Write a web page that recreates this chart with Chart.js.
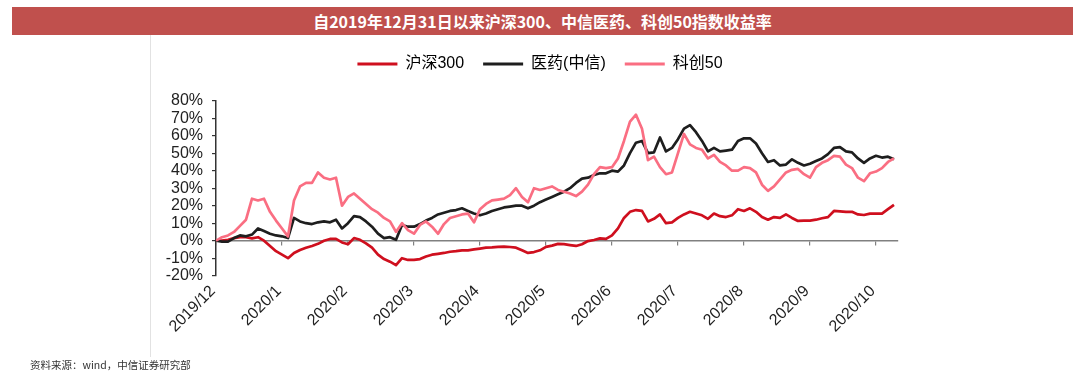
<!DOCTYPE html>
<html><head><meta charset="utf-8">
<script src="https://cdn.jsdelivr.net/npm/chart.js@4"></script>
<style>
html,body{margin:0;padding:0;background:#fff;}
#wrap{position:relative;width:1080px;height:380px;overflow:hidden;background:#fff;}
#bar{position:absolute;left:12px;top:7px;width:1061px;height:28px;background:#C0504D;color:#fff;font:bold 16px "Noto Sans CJK SC",sans-serif;line-height:28px;text-align:center;}
#vline{position:absolute;left:150px;top:35px;width:1px;height:322px;background:#e2e2e2;}
#src{position:absolute;left:30px;top:357px;font:10.5px "Noto Sans CJK SC",sans-serif;color:#333;line-height:16px;}
canvas{position:absolute;left:0;top:0;}
</style></head>
<body><div id="wrap">
<div id="bar">自2019年12月31日以来沪深300、中信医药、科创50指数收益率</div>
<div id="vline"></div>
<canvas id="c" width="1080" height="380"></canvas>
<div id="src">资料来源：wind，中信证券研究部</div>
</div>
<script>
const monthLabels = ['2019/12','2020/1','2020/2','2020/3','2020/4','2020/5','2020/6','2020/7','2020/8','2020/9','2020/10'];
const monthTickIndex = [0,11,22,33,44,55,66,77,88,99,110];
const seriesNames = ['沪深300','医药(中信)','科创50'];

const hs300 = [
 0,0,0.5,1.5,2,2,1.3,2,0,-3,
 -6,-8,-10,-7,-5.3,-4,-3,-1.8,0,1,
 1,-1,-2,1.5,0.5,-1.5,-4,-8,-10.5,-12,
 -14,-10,-11,-11,-10.5,-9,-8,-7.5,-7,-6.3,
 -6,-5.5,-5.5,-5,-4.5,-4,-3.8,-3.5,-3.4,-3.6,
 -4,-5.5,-7,-6.5,-5.5,-3.5,-2.8,-1.8,-2,-2.5,
 -3,-2,-0.2,0.4,1.3,1,3,7,13,16.5,
 17.5,17,11,12.5,15,10,10.5,13,15,16.5,
 15.5,14.5,12.5,15.5,14,13.5,14.5,18,17,18.5,
 16.5,13.5,12,13.5,13,15,13,11.3,11.5,11.5,
 12,12.8,13.5,17,16.8,16.5,16.5,15,14.7,15.5,
 15.5,15.5,18,20.5
];
const pharma = [
 0,-0.5,-0.5,1.5,3,2.5,3.5,7,5.5,4,
 3,2.5,1.5,13,11,10,9.5,10.5,11,10.5,
 12,7,10,14,13.5,11,8,4,1.5,2,
 0.5,9,8,8,9.5,11.5,13,15,16,17,
 17.5,18.5,17,15.5,14.5,15.5,17,18,19,19.5,
 20,20,18.5,20,22,23.5,25,26.5,28,30,
 33,35.5,36,37.5,38.5,38.5,40,39.5,43,50,
 56,57,50,50.5,59,51,53,58,64,66,
 62,57,51,53,51,51.5,52,57,58.5,58.5,
 55.5,50,45,46,43,43.5,46.5,44.5,43,44,
 45.5,47,49.5,53,53.5,51,50.5,47,44.5,47,
 48.5,47.5,48,46.5
];
const star50 = [
 0,2,3,5,8.5,12,24,23,24,16.5,
 11.5,7,2.5,23,31,33,33,39,36,35,
 36,20,25,27,24,21,18,16,13,11,
 5,10,6,4,9,11,8,4,9.5,13,
 14,15,15.5,10.5,18,21,23,23.5,24,26,
 30,25,22,30,29,30,31,29,28,27,
 25.5,28,32,38,42,41.5,42,47,57,68,
 72,64,46,48,42,38,39,50,61,55,
 53,52,47,49,45,43,40,40,42,41.5,
 39,32,28.5,31,35,39,40.5,41,38,36,
 42,44.5,46,48.5,48,43.5,41.5,36,34,38.5,
 39.5,41.5,45,47
];

const AREA = {left:216, right:898, top:100.7, bottom:275.7};
const xMax = 113.67;
const FONT = 'Liberation Sans, Arial, "Noto Sans CJK SC", sans-serif';
let legendExtra = 20;

const toPts = arr => arr.map((v,i)=>({x:i,y:v}));
const setMonthTicks = s => { s.ticks = monthTickIndex.map(v=>({value:v})); };

const legendSpacer = {
  id:'legendSpacer',
  beforeInit(chart){
    const lg = chart.legend;
    const orig = lg.fit;
    lg.fit = function(){ orig.call(this); this.height += legendExtra; };
  }
};

const colors = ['#CF0F1E','#1E1E1E','#FA6E82'];
const values = [hs300, pharma, star50];
const orders = [3,2,1];

const cfg = {
  type:'line',
  data:{
    datasets: seriesNames.map((name,k)=>({
      label:name,
      data:toPts(values[k]),
      borderColor:colors[k],
      backgroundColor:colors[k],
      borderWidth:2.7,
      pointRadius:0,
      tension:0,
      fill:false,
      borderJoinStyle:'round',
      order:orders[k],
      xAxisID:'x', yAxisID:'y'
    }))
  },
  options:{
    responsive:false,
    animation:false,
    layout:{padding:{top:37,left:0,right:0,bottom:0}},
    plugins:{
      tooltip:{enabled:false},
      legend:{
        display:true, position:'top', align:'center',
        labels:{
          boxWidth:40, boxHeight:3, padding:19, color:'#222',
          font:{size:16, family:FONT},
          generateLabels: chart => chart.data.datasets.map((d,i)=>({
            text:d.label, fillStyle:d.borderColor, strokeStyle:d.borderColor,
            lineWidth:0, hidden:false, datasetIndex:i
          }))
        }
      }
    },
    scales:{
      x:{
        type:'linear', position:{y:0}, min:0, max:xMax,
        afterBuildTicks:setMonthTicks,
        ticks:{display:false},
        grid:{drawOnChartArea:false, drawTicks:true, tickLength:4, color:'#808080', lineWidth:1.2},
        border:{color:'#808080', width:1.5}
      },
      x2:{
        type:'linear', position:'bottom', min:0, max:xMax,
        afterBuildTicks:setMonthTicks,
        ticks:{
          autoSkip:false, maxRotation:45, minRotation:45,
          font:{size:16, family:FONT}, color:'#222', padding:6, labelOffset:-3,
          callback: v => { const k = monthTickIndex.indexOf(v); return k>=0 ? monthLabels[k] : ''; }
        },
        grid:{display:false, drawTicks:false},
        border:{display:false},
        afterFit: s => { s.height = 380 - AREA.bottom; }
      },
      y:{
        position:'left', min:-20, max:80,
        ticks:{stepSize:10, autoSkip:false, font:{size:16, family:FONT}, color:'#222', padding:9, callback: v => v + '%'},
        grid:{drawOnChartArea:false, drawTicks:true, tickLength:4, color:'#333', lineWidth:1.2},
        border:{color:'#333', width:1.5},
        afterFit: s => { s.width = AREA.left; }
      },
      yR:{
        position:'right', display:true,
        ticks:{display:false}, grid:{display:false, drawTicks:false}, border:{display:false},
        afterFit: s => { s.width = 1080 - AREA.right; }
      }
    }
  },
  plugins:[legendSpacer]
};

const chart = new Chart(document.getElementById('c').getContext('2d'), cfg);
for (let k=0;k<3;k++){
  const d = AREA.top - chart.chartArea.top;
  if (Math.abs(d) > 0.1){ legendExtra += d; chart.update('none'); }
}
</script>
</body></html>
